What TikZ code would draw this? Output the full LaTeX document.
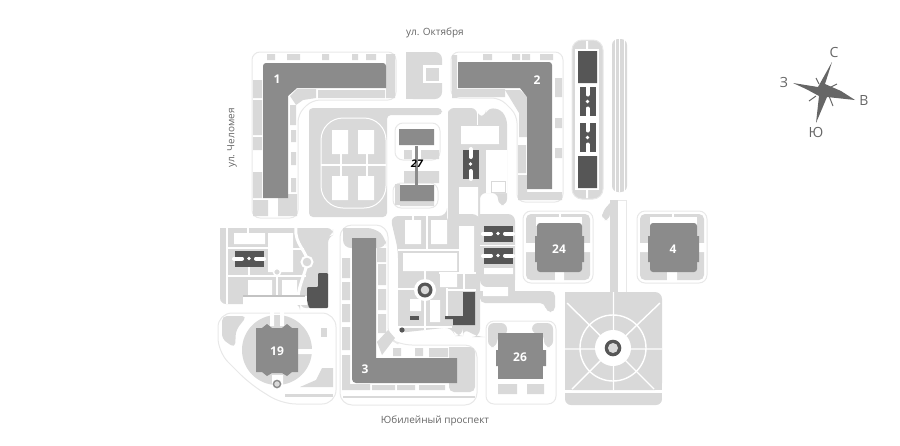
\documentclass[tikz,border=0pt]{standalone}
\usepackage{fontspec}
\setmainfont{Open Sans}
\definecolor{lawncol}{HTML}{D9D9D9}
\definecolor{edgecol}{HTML}{E8E8E8}
\definecolor{bldgcol}{HTML}{8B8B8B}
\definecolor{darkcol}{HTML}{565656}
\definecolor{textcol}{HTML}{666666}
\tikzset{
  lawn/.style={fill=lawncol, draw=none},
  blank/.style={fill=white, draw=none},
  plot/.style={fill=white, draw=edgecol, line width=1pt, rounded corners=8pt},
  bldg/.style={fill=bldgcol, draw=none},
  darkb/.style={fill=darkcol, draw=none},
  street/.style={text=textcol, font=\fontsize{10}{12}\selectfont},
  num/.style={text=white, font=\fontsize{12}{14}\selectfont\bfseries},
  side/.style={text=textcol, font=\fontsize{14}{16}\selectfont},
  hblock/.pic={
    \fill[darkb] (-8,-14.5) rectangle (8,14.5);
    \draw[white, line width=4pt, line cap=round] (0,-15) -- (0,-7) (0,15) -- (0,7);
    \fill[white] (0,0) circle (1.8);
  },
  ringmark/.pic={
    \fill[white] (0,0) circle (11);
    \fill[darkcol] (0,0) circle (7.5);
    \fill[lawncol] (0,0) circle (4.3);
  }
}
\begin{document}
\begin{tikzpicture}[x=1pt, y=-1pt]
  \useasboundingbox (0,0) rectangle (900,445);

  % plot 1
  \draw[plot] (252,52) -- (396,52) -- (396,100) -- (312,100) -- (298,114) -- (298,218) -- (252,218) -- cycle;
  \fill[lawn] (253,80) rectangle (262,98) (253,100) rectangle (262,135) (253,137) rectangle (262,150) (253,172) rectangle (262,198);
  \fill[lawn] (253,200) rectangle (268,216) (278,194) rectangle (297,216);
  \fill[lawn] (267,54) rectangle (275,60) (287,54) rectangle (300,60) (322,54) rectangle (329,60) (352,54) rectangle (358,60) (366,54) rectangle (376,60);
  \fill[lawn] (386,54) rectangle (395,98) (318,90) rectangle (385,98);
  \fill[lawn] (297,89) -- (316,89) -- (316,98) -- (303,100) -- (296,105) -- (290,96) -- cycle;
  \fill[lawn] (290,105) rectangle (296,125) (291,130) rectangle (296,142) (291,152) rectangle (296,165) (291,178) rectangle (296,192);
  \fill[bldg] (263,68) [rounded corners=3pt] -- (263,63) -- (386,63) [sharp corners] -- (386,88) -- (297,88) -- (288,96) -- (288,198) -- (263,198) -- cycle;
  \node[num] (nOne) at (277,79) {1};

  % plot 2
  \draw[plot] (451,52) -- (563,52) -- (563,202) -- (517,202) -- (517,115) -- (500,98) -- (451,98) -- cycle;
  \fill[lawn] (452,55) rectangle (457,98) (457,89) rectangle (505,97);
  \fill[lawn] (483,54) rectangle (492,60) (512,54) rectangle (520,60) (522,54) rectangle (530,60) (540,54) rectangle (553,60);
  \fill[lawn] (505,90) -- (520,90) -- (527,97) -- (527,137) -- (519,137) -- (519,113) -- cycle;
  \fill[lawn] (518,145) rectangle (526,173) (518,175) rectangle (527,200) (527,192) rectangle (562,200);
  \fill[lawn] (555,78) rectangle (562,97) (555,118) rectangle (562,128) (555,148) rectangle (562,158);
  \fill[bldg] (458,62) -- (549,62) [rounded corners=3pt] -- (552,62) [sharp corners] -- (552,189) -- (527,189) -- (527,97) -- (520,88) -- (458,88) -- cycle;
  \node[num] (nTwo) at (537,80) {2};

  % strip with courts
  \draw[plot, rounded corners=10pt, fill=lawncol] (572,40) rectangle (603,199);
  \fill[white] (575,49) rectangle (599,190);
  \fill[white] (586,41) rectangle (588,49) (586,190) rectangle (588,198);
  \fill[darkb] (578,51) rectangle (597,83) (578,156) rectangle (597,188);
  \pic at (587.5,101.5) {hblock};
  \pic at (587.5,137.5) {hblock};
  \fill[lawn, rounded corners=6pt] (612,39) rectangle (627,192);
  \draw[white, line width=0.8pt] (615,39) -- (615,192) (624,39) -- (624,192);
  \draw[white, line width=0.8pt] (619.5,39) -- (619.5,192);

  % yard near the street
  \fill[lawn, rounded corners=7pt] (406,52) -- (442,52) -- (442,99) -- (406,99) [sharp corners] -- cycle;
  \fill[lawn] (406,52) rectangle (416,99);
  \fill[white] (423,65) rectangle (443,83);
  \fill[lawn] (426,68) rectangle (439,81);

  % sports ground and block 27
  \fill[lawn, rounded corners=4pt] (309,113) -- (309,108) -- (442,108) -- (442,115) -- (387,115) -- (387,217) -- (309,217) -- cycle;
  \draw[white, fill=lawncol, line width=1pt, rounded corners=22pt] (321,118) rectangle (386,208);
  \draw[white, line width=1.5pt] (321,165) -- (386,165) (341,154) -- (341,176) (367,154) -- (367,176);
  \fill[white] (332,130) rectangle (348,154) (358,130) rectangle (374,154) (332,176) rectangle (348,200) (358,176) rectangle (374,200);
  \draw[plot, line width=1pt] (395,123) rectangle (440,160);
  \draw[plot, line width=1pt] (393,183) rectangle (438,208);
  \fill[lawn] (404,150) rectangle (439,159) (404,171) rectangle (439,183);
  \fill[lawn] (395,184) rectangle (400,205) (400,201) rectangle (434,206);
  \fill[white] (412,146) rectangle (421,159);
  \fill[bldgcol] (415,146) rectangle (418,185);
  \fill[bldg] (399,129) rectangle (434,145) (400,185) rectangle (434,201);
  \node[font=\fontsize{10.5}{12}\selectfont\bfseries\itshape] (nTwentySeven) at (417,164) {27};

  % central yard, upper part
  \fill[lawn, rounded corners=6pt] (448,116) -- (448,108) -- (477,108) -- (477,116) -- (486,116) -- (486,109) -- (499,108) -- (507,118) -- (507,205) -- (498,205) -- (498,193) -- (480,193) -- (480,232) -- (448,232) -- cycle;
  \fill[white] (461,126) rectangle (499,144) (486,150) rectangle (507,193) (459,187) rectangle (478,232);
  \draw[white, line width=1pt] (477,108) -- (477,125);
  \fill[lawn] (499,127) rectangle (507,143);
  \draw[lawncol, line width=1pt] (491,181) rectangle (505,192);
  \pic at (470.5,164) {hblock};

  % central yard, lower part
  \fill[lawn, rounded corners=8pt] (390,216) -- (447,216) -- (447,214) -- (480,214) -- (480,337) -- (477,337) -- (463,328) -- (463,336) -- (455,336) -- (452,327) -- (398,333) -- (398,293) -- (398,250) -- cycle;
  \fill[white] (405,220) rectangle (421,244) (431,220) rectangle (447,244) (403,253) rectangle (457,271) (459,226) rectangle (474,272) (440,274) rectangle (457,287);
  \draw[white, line width=1.4pt] (398,250) -- (459,250) (413,216) -- (413,220) (427,216) -- (427,250) (398,289) -- (425,289) (425,271) -- (425,330) (447,288) -- (447,318) (439,273) -- (476,273) (464,273) -- (464,290) (448,290) -- (476,290);
  \fill[white] (410,299) rectangle (421,311) (430,300) rectangle (440,322);
  \fill[white] (398,326) rectangle (452,328);
  \pic at (425,290) {ringmark};
  \fill[darkb] (410,316) rectangle (419,319.5);
  \fill[darkb] (463,292) -- (475,292) -- (475,325) -- (453,325) -- (453,319) -- (445,319) -- (445,316) -- (463,316) -- cycle;
  \fill[darkcol] (402,330) circle (2.6);

  % block with the two courts, band
  \fill[lawn, rounded corners=7pt] (480,214) -- (515,214) -- (515,287) -- (480,287) [sharp corners] -- cycle;
  \fill[lawn, rounded corners=5pt] (480,291) -- (555,291) -- (555,312) -- (546,312) -- (545,303) -- (480,303) [sharp corners] -- cycle;
  \fill[lawn] (500,280) rectangle (515,292);
  \fill[white] (484,268) rectangle (513,274) (483,287) rectangle (508,296);
  \draw[white, line width=1pt] (480,245) -- (515,245);
  \pic[rotate=90] at (498,233.5) {hblock};
  \pic[rotate=90] at (498,255.5) {hblock};
  \fill[white] (481,304) -- (495,304) -- (495,312) -- (488,322) -- (481,328) -- cycle;

  % plot 24
  \draw[plot] (523,211) rectangle (593,283);
  \fill[lawn, rounded corners=5pt] (526,214) rectangle (590,280);
  \fill[white] (524,243) rectangle (540,252) (576,243) rectangle (592,252) (555,266) rectangle (564,282);
  \fill[white] (536,217) rectangle (582,226);
  \fill[white] (559,212) rectangle (561,222);
  \fill[bldg, rounded corners=3pt] (537,223) rectangle (582,272);
  \fill[bldgcol] (535,236) rectangle (537,262) (582,236) rectangle (584,262);
  \node[num] (nTwentyFour) at (559,249) {24};

  % plot 4
  \draw[plot] (637,211) rectangle (707,283);
  \fill[lawn, rounded corners=5pt] (640,214) rectangle (704,280);
  \fill[white] (638,243) rectangle (653,252) (693,243) rectangle (706,252) (667,266) rectangle (677,282);
  \fill[white] (650,217) rectangle (697,226);
  \fill[white] (672,212) rectangle (674,222);
  \fill[bldg, rounded corners=3pt] (650,223) rectangle (697,272);
  \fill[bldgcol] (648,236) rectangle (650,262) (697,236) rectangle (699,262);
  \node[num] (nFour) at (673,249) {4};

  % plot 26
  \draw[plot] (486,321) rectangle (556,404);
  \fill[lawn, rounded corners=6pt] (488,323) -- (507,323) -- (507,336) -- (497,336) -- (497,347) -- (488,347) -- cycle;
  \fill[lawn, rounded corners=6pt] (532,323) -- (553,323) -- (553,347) -- (544,347) -- (544,334) -- (532,334) -- cycle;
  \fill[lawn] (498,384) rectangle (517,394) (527,384) rectangle (544,394);
  \fill[bldg] (498,333) rectangle (543,379);
  \fill[bldgcol] (496,350) rectangle (498,366) (543,350) rectangle (546,366);
  \node[num] (nTwentySix) at (520,357) {26};

  % square
  \fill[lawn] (610,200) rectangle (618,292);
  \draw[edgecol, line width=1pt] (618,200) -- (626,200) -- (626,292);
  \fill[lawn, rounded corners=6pt] (610,203) -- (602,212) -- (602,220) -- (610,220) [sharp corners] -- cycle;
  \fill[lawn, rounded corners=7pt] (565,292) -- (662,292) -- (662,390) -- (565,390) [sharp corners] -- cycle;
  \fill[lawn] (565,300) rectangle (662,390);
  \fill[lawn, rounded corners=6pt] (565,393) -- (662,393) -- (662,405) -- (565,405) [sharp corners] -- cycle;
  \fill[lawn] (565,393) rectangle (662,398);
  \draw[white, line width=1.4pt] (567,303) -- (613,348) -- (660,303) (572,389) -- (613,348) -- (654,389) (613.5,292) -- (613.5,390) (565,349) -- (662,349);
  \draw[white, line width=1.4pt] (613,348) circle (33);
  \fill[white] (613,348) circle (18);
  \fill[darkcol] (613,348) circle (8.3);
  \fill[lawncol] (613,348) circle (5);

  % plot 3
  \draw[plot, rounded corners=12pt] (340,225) -- (388,225) -- (388,338) -- (400,345) -- (477,345) -- (477,405) -- (340,405) -- cycle;
  \fill[lawn, rounded corners=8pt] (343,228) -- (375,228) -- (386,238) -- (386,248) -- (343,248) [sharp corners] -- cycle;
  \fill[lawn] (377,248) rectangle (386,262) (378,264) rectangle (386,285) (378,289) rectangle (386,310) (378,314) rectangle (386,333);
  \fill[lawn] (342,258) rectangle (350,278) (342,282) rectangle (350,300) (342,304) rectangle (350,322) (342,327) rectangle (350,350) (342,355) rectangle (350,388);
  \fill[lawn] (342,384) rectangle (370,390) (372,385) rectangle (395,390) (397,385) rectangle (415,390) (419,385) rectangle (445,390);
  \fill[lawn] (377,342) -- (388,330) -- (395,338) -- (382,355) -- cycle;
  \fill[lawn, rounded corners=5pt] (449,347) -- (475,347) -- (475,392) -- (449,392) [sharp corners] -- cycle;
  \fill[lawn] (393,348) rectangle (401,356) (415,348) rectangle (423,356) (429,348) rectangle (448,357);
  \fill[lawn] (343,396) rectangle (475,398);
  \fill[bldg] (352,238) -- (376,238) -- (376,358) -- (457,358) -- (457,383) -- (360,383) [rounded corners=4pt] -- (352,383) [sharp corners] -- cycle;
  \node[num] (nThree) at (365,369) {3};

  % left yard
  \fill[lawn, rounded corners=6pt] (220,228) -- (333,228) -- (333,235) -- (328,237) -- (328,308) -- (300,308) -- (300,304) -- (220,304) [sharp corners] -- cycle;
  \fill[white] (234,233) rectangle (265,244) (268,233) rectangle (293,272) (248,280) rectangle (272,295) (282,280) rectangle (297,295);
  \draw[white, line width=1.4pt] (227,228) -- (227,304) (227,248) -- (268,248) (227,276) -- (306,276) (248,228) -- (248,233) (249,266) -- (249,276) (277,272) -- (277,302) (293,249) -- (304,249);
  \draw[white, line width=3pt] (296,228) .. controls (294,244) and (308,252) .. (307,262) .. controls (306,272) and (300,282) .. (298,296);
  \fill[white] (243,296) rectangle (307,305);
  \draw[lawncol!90!black, line width=1.2pt] (243,296) -- (305,296);
  \draw[white, line width=2pt, fill=lawncol] (307,262) circle (5.5);
  \draw[white, line width=1.5pt, fill=lawncol] (277,272) circle (3.5);
  \pic[rotate=90] at (249,258.5) {hblock};
  \fill[darkb, rounded corners=1pt] (318,273) -- (328,273) -- (328,308) -- (309,308) -- (307,300) -- (307,287) -- (318,287) -- cycle;

  % plot 19
  \draw[plot, rounded corners=14pt] (218,313) -- (336,313) -- (336,404) -- (282,404) -- (250,384) -- (218,352) -- cycle;
  \fill[lawn, rounded corners=5pt] (222,316) -- (247,316) -- (236,330) -- (235,348) -- (222,339) -- cycle;
  \fill[lawn] (277,350) circle (35);
  \fill[lawn] (321,328) rectangle (327,337);
  \fill[lawn] (333,368) -- (333,387) -- (300,387) -- (316,380) -- (322,368) -- cycle;
  \fill[lawn] (285,394) rectangle (333,397);
  \fill[white] (270,312) rectangle (274,326) (280,312) rectangle (284,326) (298,349) rectangle (314,354) (272,375) rectangle (283,392);
  \fill[bldg] (256,328) -- (262,328) -- (267,324) -- (272,328) -- (282,328) -- (287,324) -- (292,328) -- (298,328) -- (298,372) -- (292,372) -- (287,376) -- (282,373) -- (272,373) -- (267,376) -- (262,372) -- (256,372) -- cycle;
  \draw[darkcol!70!white, line width=1.4pt, fill=lawncol] (277,384) circle (3.6);
  \node[num] (nNineteen) at (277,351) {19};

  % street names
  \node[street] (octobre) at (435,33) {ул. Октября};
  \node[street, rotate=90] (chelomey) at (232,138) {ул. Челомея};
  \node[street] (jubilee) at (435,421) {Юбилейный проспект};

  % compass
  \fill[textcol] (832,62) -- (825,84) -- (841,91) -- (855,100) -- (827,97) -- (816,123) -- (819,96) -- (806,89) -- (793,83) -- (818,87) -- cycle;
  \draw[textcol, line width=1pt] (816,78) -- (819,84) (837,84) -- (829,88) (809,101) -- (816,96) (829,96) -- (833,106);
  \node[side] (north) at (834,52) {С};
  \node[side] (east) at (864,100) {В};
  \node[side] (south) at (816,132) {Ю};
  \node[side] (west) at (784,82) {З};
\end{tikzpicture}
\end{document}
